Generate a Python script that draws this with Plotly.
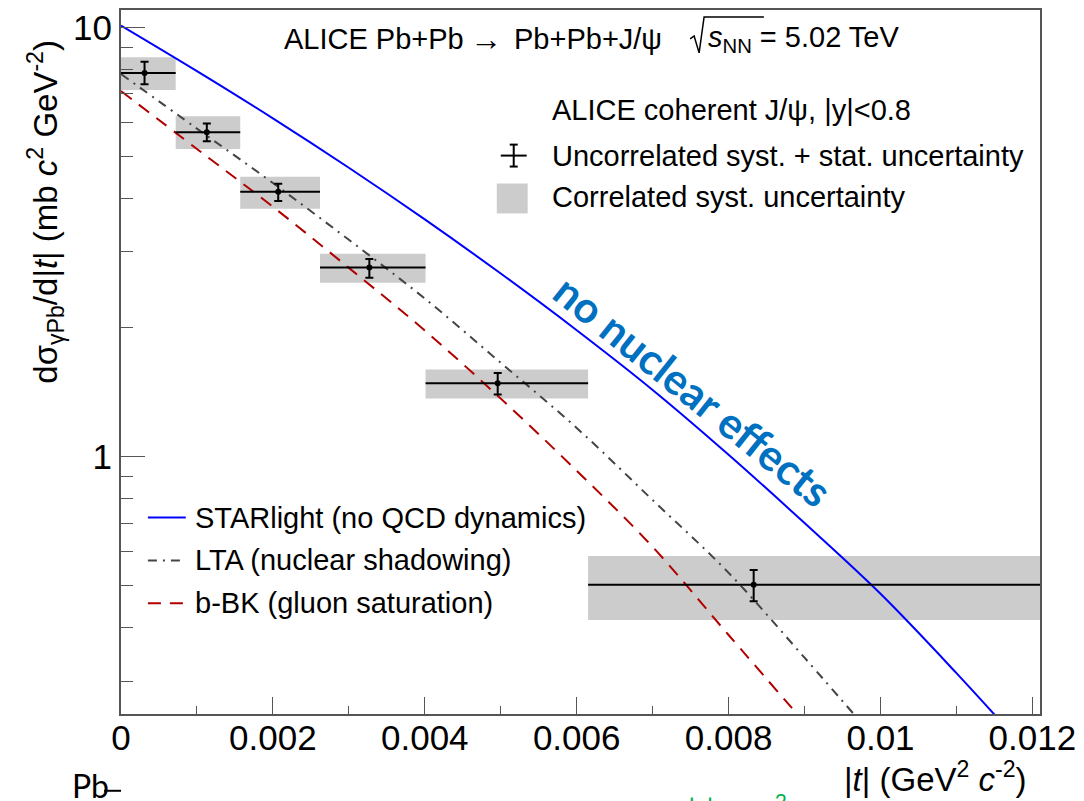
import plotly.graph_objects as go

# ALICE coherent J/psi photoproduction, |t| spectrum
t_center = [0.00031, 0.00113, 0.00207, 0.00327, 0.00496, 0.00833]
t_low = [0.0, 0.00072, 0.00157, 0.00262, 0.00401, 0.00615]
t_high = [0.00072, 0.00157, 0.00262, 0.00401, 0.00615, 0.0121]
dsigma_dt = [7.83, 5.70, 4.14, 2.76, 1.483, 0.503]
uncorr_plus = [0.49, 0.275, 0.18, 0.128, 0.084, 0.041]
uncorr_minus = [0.46, 0.27, 0.20, 0.15, 0.087, 0.043]
corr_plus = [0.69, 0.51, 0.35, 0.21, 0.113, 0.084]
corr_minus = [0.68, 0.49, 0.36, 0.22, 0.117, 0.087]

# model predictions
t_model = [0.000, 0.001, 0.002, 0.003, 0.004, 0.005, 0.006,
           0.007, 0.008, 0.009, 0.010, 0.011, 0.012]
starlight = [10.1, 7.91, 6.14, 4.71, 3.57, 2.67, 1.97,
             1.43, 1.01, 0.70, 0.479, 0.313, 0.20]
lta = [7.79, 5.81, 4.34, 3.20, 2.335, 1.654, 1.166,
       0.792, 0.536, 0.340, 0.213]
bbk = [7.11, 5.21, 3.82, 2.753, 1.967, 1.365, 0.927,
       0.616, 0.384, 0.240]

x_ticks = [0, 0.002, 0.004, 0.006, 0.008, 0.01, 0.012]
x_tick_text = ["0", "0.002", "0.004", "0.006", "0.008", "0.01", "0.012"]
y_ticks = [1, 10]
y_minor = [0.3, 0.4, 0.5, 0.6, 0.7, 0.8, 0.9, 2, 3, 4, 5, 6, 7, 8, 9]

W, H = 1084, 801
L, R, T, B = 121, 41, 8, 87
FONT = "Liberation Sans, Arial, sans-serif"
AXIS_COL = "#555555"
BLUE = "#0000ff"
GREY = "#444444"
RED = "#b00000"
BOX = "#cccccc"
LEG = 29


def px(x):
    return (x - L) / (W - L - R)


def py(y):
    return (H - B - y) / (H - T - B)


fig = go.Figure()

# correlated systematic boxes
for lo, hi, v, cp, cm in zip(t_low, t_high, dsigma_dt, corr_plus, corr_minus):
    fig.add_shape(type="rect", xref="x", yref="y", x0=lo, x1=hi,
                  y0=v - cm, y1=v + cp, fillcolor=BOX, line_width=0,
                  layer="below")

# model curves
fig.add_trace(go.Scatter(x=t_model[:len(starlight)], y=starlight, mode="lines",
                         line=dict(color=BLUE, width=2, shape="spline"),
                         showlegend=False, hoverinfo="skip"))
fig.add_trace(go.Scatter(x=t_model[:len(lta)], y=lta, mode="lines",
                         line=dict(color=GREY, width=2, shape="spline",
                                   dash="9px,6px,2px,6px"),
                         showlegend=False, hoverinfo="skip"))
fig.add_trace(go.Scatter(x=t_model[:len(bbk)], y=bbk, mode="lines",
                         line=dict(color=RED, width=2, shape="spline",
                                   dash="13px,9px"),
                         showlegend=False, hoverinfo="skip"))

# data points with bin widths and uncorrelated uncertainties
fig.add_trace(go.Scatter(
    x=t_center, y=dsigma_dt, mode="markers",
    marker=dict(color="black", size=6),
    error_x=dict(type="data", symmetric=False,
                 array=[h - c for h, c in zip(t_high, t_center)],
                 arrayminus=[c - l for c, l in zip(t_center, t_low)],
                 color="black", thickness=2, width=0),
    error_y=dict(type="data", symmetric=False, array=uncorr_plus,
                 arrayminus=uncorr_minus, color="black", thickness=2, width=4),
    showlegend=False, hoverinfo="skip"))

annotations = []


def text(x, y, s, size=LEG, color="black", xanchor="left", family=FONT, **kw):
    annotations.append(dict(x=px(x), y=py(y), xref="paper", yref="paper",
                            text=s, showarrow=False, xanchor=xanchor,
                            yanchor="middle",
                            font=dict(family=family, size=size, color=color),
                            **kw))


# header
text(283, 37, "ALICE Pb+Pb")
text(487, 37, "\u2192", size=32, xanchor="center")
text(513, 37, "Pb+Pb+J/\u03c8")
text(708, 37, "<i>s</i><sub>NN</sub> = 5.02 TeV")

# data legend
text(551, 108, "ALICE coherent J/\u03c8, |y|<0.8")
text(551, 154, "Uncorrelated syst. + stat. uncertainty")
text(551, 196, "Correlated syst. uncertainty")

# model legend
text(193, 517, "STARlight (no QCD dynamics)")
text(193, 560, "LTA (nuclear shadowing)")
text(193, 603, "b-BK (gluon saturation)")

# axis titles
text(1032, 777, "|<i>t</i>| (GeV<sup>2</sup> <i>c</i><sup>-2</sup>)", size=33,
     xanchor="right")
annotations.append(dict(
    x=px(45), y=py(210), xref="paper", yref="paper", showarrow=False,
    text="d\u03c3<sub>\u03b3Pb</sub>/d|<i>t</i>| (mb <i>c</i><sup>2</sup> GeV<sup>-2</sup>)",
    textangle=-90, xanchor="center", yanchor="middle",
    font=dict(family=FONT, size=33, color="black")))

# slide overlay text
annotations.append(dict(
    x=px(695), y=py(390), xref="paper", yref="paper", showarrow=False,
    text="<b>no nuclear effects</b>", textangle=38.7,
    xanchor="center", yanchor="middle",
    font=dict(family="Lato, Open Sans, sans-serif", size=43, color="#0070c0")))
text(70, 786, "Pb", size=32, family="Lato, sans-serif")
text(688, 810, "|<i>t</i>| ~ <i>p</i><sub>T</sub><sup>2</sup>", size=30,
     color="#00b050", family="Lato, sans-serif")

shapes = []


def seg(x0, y0, x1, y1, color, width=2, dash="solid"):
    shapes.append(dict(type="line", xref="paper", yref="paper",
                       x0=px(x0), y0=py(y0), x1=px(x1), y1=py(y1),
                       line=dict(color=color, width=width, dash=dash)))


# legend symbols
seg(502, 154, 528, 154, "black")
seg(515, 143, 515, 165, "black")
seg(511, 143, 519, 143, "black")
seg(511, 165, 519, 165, "black")
shapes.append(dict(type="rect", xref="paper", yref="paper",
                   x0=px(498), x1=px(529), y0=py(212), y1=py(182),
                   fillcolor=BOX, line_width=0))
seg(148, 517, 186, 517, BLUE)
seg(148, 560, 186, 560, GREY, dash="9px,6px,2px,6px")
seg(148, 603, 186, 603, RED, dash="13px,9px")
seg(104, 791, 121, 791, "black", width=2)

# square-root sign over s_NN
radical = [(692, 37), (696, 34), (701, 51), (706, 15), (766, 15)]
path = "M " + " L ".join(f"{px(a):.5f},{py(b):.5f}" for a, b in radical)
shapes.append(dict(type="path", xref="paper", yref="paper", path=path,
                   line=dict(color="black", width=1.5)))

for s in shapes:
    fig.add_shape(**s)

fig.update_layout(
    width=W, height=H,
    margin=dict(l=L, r=R, t=T, b=B, pad=0),
    paper_bgcolor="white", plot_bgcolor="white",
    annotations=annotations,
    font=dict(family=FONT, color="black"),
    xaxis=dict(range=[0, 0.0121], tickmode="array", tickvals=x_ticks,
               ticktext=x_tick_text, ticks="inside", ticklen=17, tickwidth=1,
               tickcolor=AXIS_COL, showline=True, linecolor=AXIS_COL,
               linewidth=2, mirror=True, showgrid=False, zeroline=False,
               tickfont=dict(size=35, family=FONT), ticklabelstandoff=-8,
               minor=dict(tickmode="array",
                          tickvals=[0.001, 0.003, 0.005, 0.007, 0.009, 0.011],
                          ticks="inside", ticklen=8, tickcolor=AXIS_COL,
                          showgrid=False)),
    yaxis=dict(type="log", range=[-0.5997, 1.0406], tickmode="array",
               tickvals=y_ticks, ticktext=["1", "10"], ticks="inside",
               ticklen=24, tickwidth=1, tickcolor=AXIS_COL, showline=True,
               linecolor=AXIS_COL, linewidth=2, mirror=True, showgrid=False,
               zeroline=False, tickfont=dict(size=35, family=FONT),
               minor=dict(tickmode="array", tickvals=y_minor, ticks="inside",
                          ticklen=12, tickcolor=AXIS_COL, showgrid=False)),
)

fig.write_html("out.html")
